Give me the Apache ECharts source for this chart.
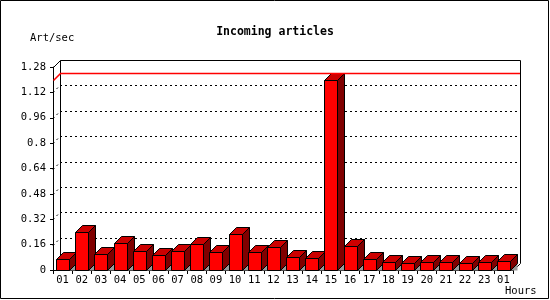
<!DOCTYPE html>
<html><head><meta charset="utf-8">
<script src="https://cdn.jsdelivr.net/npm/echarts@6/dist/echarts.min.js"></script>
<style>html,body{margin:0;padding:0;background:#fff}#c{width:550px;height:300px}</style>
</head><body><div id="c"></div>
<script>
const hours = ["01","02","03","04","05","06","07","08","09","10","11","12","13","14","15","16","17","18","19","20","21","22","23","01"];
const rates = [0.067,0.237,0.100,0.168,0.118,0.092,0.118,0.162,0.111,0.225,0.111,0.143,0.080,0.074,1.200,0.149,0.067,0.050,0.044,0.050,0.050,0.044,0.050,0.057];
const gridTicks = [0.16,0.32,0.48,0.64,0.8,0.96,1.12];
const maxRate = 1.2;
const yMax = 1.28, yStep = 0.16;
const titleText = 'Incoming articles';
const yName = 'Art/sec';
const xName = 'Hours';

const D = 7;
const FONT = 'DejaVu Sans Mono';
const px = v => Math.round(v) + 0.5;

const chart = echarts.init(document.getElementById('c'), null, {renderer: 'canvas'});

function line(x1, y1, x2, y2, stroke, dash) {
  return {type: 'line', shape: {x1, y1, x2, y2}, style: {stroke, lineWidth: 1, lineDash: dash || null, fill: null}};
}

const option = {
  animation: false,
  backgroundColor: '#fff',
  title: {text: titleText, left: 'center', top: 21,
    textStyle: {fontFamily: FONT, fontWeight: 'bold', fontSize: 11.5, color: '#000'}},
  grid: {left: 53, right: 37, top: 67, bottom: 30},
  xAxis: {
    type: 'category', data: hours, boundaryGap: true,
    axisLine: {lineStyle: {color: '#000', width: 1}},
    axisTick: {show: true, length: 4, alignWithLabel: false, interval: 0, lineStyle: {color: '#000'}},
    axisLabel: {fontFamily: FONT, fontSize: 10.5, color: '#000', margin: 5, interval: 0},
    splitLine: {show: false}
  },
  yAxis: {
    type: 'value', min: 0, max: yMax, interval: yStep,
    axisLine: {show: true, lineStyle: {color: '#000', width: 1}},
    axisTick: {show: true, length: 3, lineStyle: {color: '#000'}},
    axisLabel: {fontFamily: FONT, fontSize: 10.5, color: '#000', margin: 7,
      formatter: v => String(+(+v).toFixed(2))},
    splitLine: {show: false}
  },
  graphic: [
    {type: 'rect', shape: {x: 0.5, y: 0.5, width: 548, height: 298}, style: {fill: null, stroke: '#000', lineWidth: 1}, z: 100},
    {type: 'text', left: 30, top: 33, style: {text: yName, fontFamily: FONT, fontSize: 10.5, fill: '#000'}},
    {type: 'text', left: 505, top: 286, style: {text: xName, fontFamily: FONT, fontSize: 10.5, fill: '#000'}}
  ],
  series: [
    {
      type: 'custom', name: 'gridlines', z: 1, silent: true,
      data: gridTicks.map(v => [0, v]), encode: {x: 0, y: 1},
      renderItem: (params, api) => {
        const cs = params.coordSys;
        const y = Math.round(api.coord([0, api.value(1)])[1]);
        const x0 = Math.round(cs.x), x1 = Math.round(cs.x + cs.width);
        return {type: 'group', children: [
          line(x0, y + 0.5, x0 + D, y - D + 0.5, '#000', [2, 3]),
          line(x0 + D, y - D + 0.5, x1 + D, y - D + 0.5, '#000', [2, 3])
        ]};
      }
    },
    {
      type: 'custom', name: 'frame', z: 1, silent: true,
      data: [[0, yMax]], encode: {x: 0, y: 1},
      renderItem: (params, api) => {
        const cs = params.coordSys;
        const x0 = Math.round(cs.x), x1 = Math.round(cs.x + cs.width);
        const y0 = Math.round(cs.y), yb = Math.round(cs.y + cs.height);
        return {type: 'group', children: [
          line(x0 + D + 0.5, y0 - D + 0.5, x1 + D + 0.5, y0 - D + 0.5, '#000'),
          line(x0 + D + 0.5, y0 - D + 0.5, x0 + D + 0.5, yb - D + 0.5, '#000'),
          line(x1 + D + 0.5, y0 - D + 0.5, x1 + D + 0.5, yb - D + 0.5, '#000'),
          line(x0 + 0.5, y0 + 0.5, x0 + D + 0.5, y0 - D + 0.5, '#000'),
          line(x1 + 0.5, yb + 0.5, x1 + D + 0.5, yb - D + 0.5, '#000')
        ]};
      }
    },
    {
      type: 'custom', name: 'max', z: 5, silent: true,
      itemStyle: {color: '#ff0000'},
      data: [[0, maxRate]], encode: {x: 0, y: 1},
      renderItem: (params, api) => {
        const cs = params.coordSys;
        const y = Math.round(api.coord([0, api.value(1)])[1]);
        const x0 = Math.round(cs.x), x1 = Math.round(cs.x + cs.width);
        return {type: 'polyline', z2: 10,
          shape: {points: [[x0 + 0.5, y + 0.5], [x0 + D + 0.5, y - D + 0.5], [x1 + D, y - D + 0.5]]},
          style: {stroke: '#ff0000', lineWidth: 1.5, fill: null}};
      }
    },
    {
      type: 'custom', name: 'Art/sec', z: 3,
      data: rates.map((v, i) => [i, v]), encode: {x: 0, y: 1},
      renderItem: (params, api) => {
        const top = api.coord([api.value(0), api.value(1)]);
        const base = api.coord([api.value(0), 0]);
        const bw = Math.round(api.size([1, 0])[0] * 0.68);
        const xl = px(top[0] - bw / 2), xr = xl + bw;
        const yt = px(top[1]), yb = px(base[1]);
        const st = {stroke: '#000', lineWidth: 1};
        return {type: 'group', children: [
          {type: 'polygon', shape: {points: [[xr, yb], [xr + D, yb - D], [xr + D, yb]]}, style: {fill: '#999999', stroke: null}},
          {type: 'polygon', shape: {points: [[xr, yt], [xr + D, yt - D], [xr + D, yb - D], [xr, yb]]}, style: Object.assign({fill: '#800000'}, st)},
          {type: 'polygon', shape: {points: [[xl, yt], [xl + D, yt - D], [xr + D, yt - D], [xr, yt]]}, style: Object.assign({fill: '#cc0000'}, st)},
          {type: 'rect', shape: {x: xl, y: yt, width: bw, height: yb - yt}, style: Object.assign({fill: '#ff0000'}, st)}
        ]};
      }
    }
  ]
};
chart.setOption(option);
</script>
</body></html>
